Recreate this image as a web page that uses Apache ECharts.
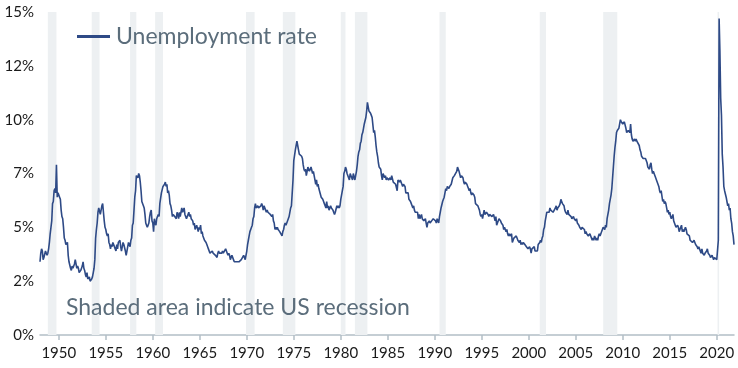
<!DOCTYPE html>
<html>
<head>
<meta charset="utf-8">
<script src="https://cdn.jsdelivr.net/npm/echarts@6/dist/echarts.min.js"></script>
<style>
html,body{margin:0;padding:0;background:#fff;}
#chart{width:738px;height:368px;}
</style>
</head>
<body>
<div id="chart"></div>
<script>
// Monthly US unemployment rate (%), Jan 1948 - Nov 2021
const rate1940s = [
3.4,3.8,4.0,3.9,3.5,3.6,3.6,3.9,3.8,3.7,3.8,4.0,
4.3,4.7,5.0,5.3,6.1,6.2,6.7,6.8,6.6,7.9,6.4,6.6];
const rate1950s = [
6.5,6.4,6.3,5.8,5.5,5.4,5.0,4.5,4.4,4.2,4.2,4.3,
3.7,3.4,3.4,3.1,3.0,3.2,3.1,3.1,3.3,3.5,3.5,3.1,
3.2,3.1,2.9,2.9,3.0,3.0,3.2,3.4,3.1,3.0,2.8,2.7,
2.9,2.6,2.6,2.7,2.5,2.5,2.6,2.7,2.9,3.1,3.5,4.5,
4.9,5.2,5.7,5.9,5.9,5.6,5.8,6.0,6.1,5.7,5.3,5.0,
4.9,4.7,4.6,4.7,4.3,4.2,4.0,4.2,4.1,4.3,4.2,4.2,
4.0,3.9,4.2,4.0,4.3,4.3,4.4,4.1,3.9,3.9,4.3,4.2,
4.2,3.9,3.7,3.9,4.1,4.3,4.2,4.1,4.4,4.5,5.1,5.2,
5.8,6.4,6.7,7.4,7.4,7.3,7.5,7.4,7.1,6.7,6.2,6.2,
6.0,5.9,5.6,5.2,5.1,5.0,5.1,5.2,5.5,5.7,5.8,5.3];
const rate1960s = [
5.2,4.8,5.4,5.2,5.1,5.4,5.5,5.6,5.5,6.1,6.1,6.6,
6.6,6.9,6.9,7.0,7.1,6.9,7.0,6.6,6.7,6.5,6.1,6.0,
5.8,5.5,5.6,5.6,5.5,5.5,5.4,5.7,5.6,5.4,5.7,5.5,
5.7,5.9,5.7,5.7,5.9,5.6,5.6,5.4,5.5,5.5,5.7,5.5,
5.6,5.4,5.4,5.3,5.1,5.2,4.9,5.0,5.1,5.1,4.8,5.0,
4.9,5.1,4.7,4.8,4.6,4.6,4.4,4.4,4.3,4.2,4.1,4.0,
4.0,3.8,3.8,3.8,3.9,3.8,3.8,3.8,3.7,3.7,3.6,3.8,
3.9,3.8,3.8,3.8,3.8,3.9,3.8,3.8,3.8,4.0,3.9,3.8,
3.7,3.8,3.7,3.5,3.5,3.7,3.7,3.5,3.4,3.4,3.4,3.4,
3.4,3.4,3.4,3.4,3.4,3.5,3.5,3.5,3.7,3.7,3.5,3.5];
const rate1970s = [
3.9,4.2,4.4,4.6,4.8,4.9,5.0,5.1,5.4,5.5,5.9,6.1,
5.9,5.9,6.0,5.9,5.9,5.9,6.0,6.1,6.0,5.8,6.0,6.0,
5.8,5.7,5.8,5.7,5.7,5.7,5.6,5.6,5.5,5.6,5.3,5.2,
4.9,5.0,4.9,5.0,4.9,4.9,4.8,4.8,4.8,4.6,4.8,4.9,
5.1,5.2,5.1,5.1,5.1,5.4,5.5,5.5,5.9,6.0,6.6,7.2,
8.1,8.1,8.6,8.8,9.0,8.8,8.6,8.4,8.4,8.4,8.3,8.2,
7.9,7.7,7.6,7.7,7.4,7.6,7.8,7.8,7.6,7.7,7.8,7.8,
7.5,7.6,7.4,7.2,7.0,7.2,6.9,7.0,6.8,6.8,6.8,6.4,
6.4,6.3,6.3,6.1,6.0,5.9,6.2,5.9,6.0,5.8,5.9,6.0,
5.9,5.9,5.8,5.8,5.6,5.7,5.7,6.0,5.9,6.0,5.9,6.0];
const rate1980s = [
6.3,6.3,6.3,6.9,7.5,7.6,7.8,7.7,7.5,7.5,7.5,7.2,
7.5,7.4,7.4,7.2,7.5,7.5,7.2,7.4,7.6,7.9,8.3,8.5,
8.6,8.9,9.0,9.3,9.4,9.6,9.8,9.8,10.1,10.4,10.8,10.8,
10.4,10.4,10.3,10.2,10.1,10.1,9.4,9.5,9.2,8.8,8.5,8.3,
8.0,7.8,7.8,7.7,7.4,7.2,7.5,7.5,7.3,7.4,7.2,7.3,
7.3,7.2,7.2,7.3,7.2,7.4,7.4,7.1,7.1,7.1,7.0,7.0,
6.7,7.2,7.2,7.1,7.2,7.2,7.0,6.9,7.0,7.0,6.9,6.6,
6.6,6.6,6.6,6.3,6.3,6.2,6.1,6.0,5.9,6.0,5.8,5.7,
5.7,5.7,5.7,5.4,5.6,5.4,5.4,5.6,5.4,5.4,5.3,5.3,
5.4,5.2,5.0,5.2,5.2,5.3,5.2,5.2,5.3,5.3,5.4,5.4];
const rate1990s = [
5.4,5.3,5.2,5.4,5.4,5.2,5.5,5.7,5.9,5.9,6.2,6.3,
6.4,6.6,6.8,6.7,6.9,6.9,6.8,6.9,6.9,7.0,7.0,7.3,
7.3,7.4,7.4,7.4,7.6,7.8,7.7,7.6,7.6,7.3,7.4,7.4,
7.3,7.1,7.0,7.1,7.1,7.0,6.9,6.8,6.7,6.8,6.6,6.5,
6.6,6.6,6.5,6.4,6.1,6.1,6.1,6.0,5.9,5.8,5.6,5.5,
5.6,5.4,5.4,5.8,5.6,5.6,5.7,5.7,5.6,5.5,5.6,5.6,
5.6,5.5,5.5,5.6,5.6,5.3,5.5,5.1,5.2,5.2,5.4,5.4,
5.3,5.2,5.2,5.1,4.9,5.0,4.9,4.8,4.9,4.7,4.6,4.7,
4.6,4.6,4.7,4.3,4.4,4.5,4.5,4.5,4.6,4.5,4.4,4.4,
4.3,4.4,4.2,4.3,4.2,4.3,4.3,4.2,4.2,4.1,4.1,4.0];
const rate2000s = [
4.0,4.1,4.0,3.8,4.0,4.0,4.0,4.1,3.9,3.9,3.9,3.9,
4.2,4.2,4.3,4.4,4.3,4.5,4.6,4.9,5.0,5.3,5.5,5.7,
5.7,5.7,5.7,5.9,5.8,5.8,5.8,5.7,5.7,5.7,5.9,6.0,
5.8,5.9,5.9,6.0,6.1,6.3,6.2,6.1,6.1,6.0,5.8,5.7,
5.7,5.6,5.8,5.6,5.6,5.6,5.5,5.4,5.4,5.5,5.4,5.4,
5.3,5.4,5.2,5.2,5.1,5.0,5.0,4.9,5.0,5.0,5.0,4.9,
4.7,4.8,4.7,4.7,4.6,4.6,4.7,4.7,4.5,4.4,4.5,4.4,
4.6,4.5,4.4,4.5,4.4,4.6,4.7,4.6,4.7,4.7,4.7,5.0,
5.0,4.9,5.1,5.0,5.4,5.6,5.8,6.1,6.1,6.5,6.8,7.3,
7.8,8.3,8.7,9.0,9.4,9.5,9.5,9.6,9.8,10.0,9.9,9.9];
const rate2010s = [
9.8,9.8,9.9,9.9,9.6,9.4,9.4,9.5,9.5,9.4,9.8,9.3,
9.1,9.0,9.0,9.1,9.0,9.1,9.0,9.0,9.0,8.8,8.6,8.5,
8.3,8.3,8.2,8.2,8.2,8.2,8.2,8.0,7.8,7.8,7.7,7.9,
8.0,7.7,7.5,7.6,7.5,7.5,7.3,7.2,7.2,7.2,6.9,6.7,
6.6,6.7,6.7,6.2,6.3,6.1,6.2,6.1,5.9,5.7,5.8,5.6,
5.7,5.5,5.4,5.4,5.6,5.3,5.2,5.1,5.0,5.0,5.1,5.0,
4.8,4.9,5.0,5.1,4.8,4.9,4.8,4.9,5.0,4.9,4.7,4.7,
4.7,4.6,4.4,4.4,4.4,4.3,4.3,4.4,4.3,4.2,4.2,4.1,
4.0,4.1,4.0,4.0,3.8,4.0,3.8,3.8,3.7,3.8,3.8,3.9,
4.0,3.8,3.8,3.7,3.6,3.6,3.7,3.6,3.5,3.6,3.6,3.6];
const rate2020s = [
3.5,3.5,4.4,14.7,13.2,11.0,10.2,8.4,7.8,6.9,6.7,6.7,
6.4,6.2,6.0,6.1,5.8,5.9,5.4,5.2,4.8,4.6,4.2];

const firstYear = 1948;
const xTickYears = [1950,1955,1960,1965,1970,1975,1980,1985,1990,1995,2000,2005,2010,2015,2020];
const yTickLabels = ['0%','2%','5%','7%','10%','12%','15%'];
const recessionStart = ['1948-11','1953-07','1957-08','1960-04','1969-12','1973-11','1980-01','1981-07','1990-07','2001-03','2007-12','2020-02'];
const recessionEnd   = ['1949-10','1954-05','1958-04','1961-02','1970-11','1975-03','1980-07','1982-11','1991-03','2001-11','2009-06','2020-04'];
const seriesName = 'Unemployment rate';
const noteText = 'Shaded area indicate US recession';

const values = [].concat(rate1940s, rate1950s, rate1960s, rate1970s, rate1980s, rate1990s, rate2000s, rate2010s, rate2020s);
const months = values.map((v, i) => {
  const y = firstYear + Math.floor(i / 12);
  const m = (i % 12) + 1;
  return y + '-' + (m < 10 ? '0' + m : m);
});
const tickSet = new Set(xTickYears.map(y => y + '-01'));
const showTick = (idx, val) => tickSet.has(months[idx]);

const font = 'Lato, "Open Sans", sans-serif';
const chart = echarts.init(document.getElementById('chart'), null, {renderer: 'canvas'});
chart.setOption({
  animation: false,
  backgroundColor: '#ffffff',
  grid: {left: 40, right: 4, top: 12, bottom: 33, containLabel: false},
  legend: {
    left: 77, top: 25, padding: 0,
    icon: 'rect', itemWidth: 33, itemHeight: 3, itemGap: 6,
    textStyle: {fontFamily: font, fontSize: 23, color: '#5b6d7b', padding: [0,0,0,1]},
    data: [seriesName]
  },
  xAxis: {
    type: 'category',
    data: months,
    boundaryGap: false,
    axisLine: {lineStyle: {color: '#b3bec6', width: 1.5}},
    axisTick: {show: true, interval: showTick, length: 5, lineStyle: {color: '#b3bec6', width: 1.5}},
    axisLabel: {interval: showTick, formatter: v => v.slice(0, 4), fontFamily: font, fontSize: 15, color: '#1a1a1a', margin: 11},
    splitLine: {show: false}
  },
  yAxis: {
    type: 'value', min: 0, max: 15, interval: 2.5,
    axisLine: {show: false}, axisTick: {show: false},
    splitLine: {show: false},
    axisLabel: {
      formatter: v => yTickLabels[Math.round(v / 2.5)],
      fontFamily: font, fontSize: 15, color: '#1a1a1a', margin: 6
    }
  },
  graphic: [{
    type: 'text', left: 66, top: 296, silent: true, z: 100,
    style: {text: noteText, font: '23px ' + font, fill: '#5b6d7b'}
  }],
  series: [{
    name: seriesName,
    type: 'line',
    data: values,
    showSymbol: false,
    symbol: 'none',
    lineStyle: {color: '#2e4a86', width: 1.6},
    itemStyle: {color: '#2e4a86'},
    emphasis: {disabled: true},
    markArea: {
      silent: true,
      itemStyle: {color: '#edf0f2'},
      data: recessionStart.map((s, i) => [{xAxis: s}, {xAxis: recessionEnd[i]}])
    }
  }]
});
</script>
</body>
</html>
